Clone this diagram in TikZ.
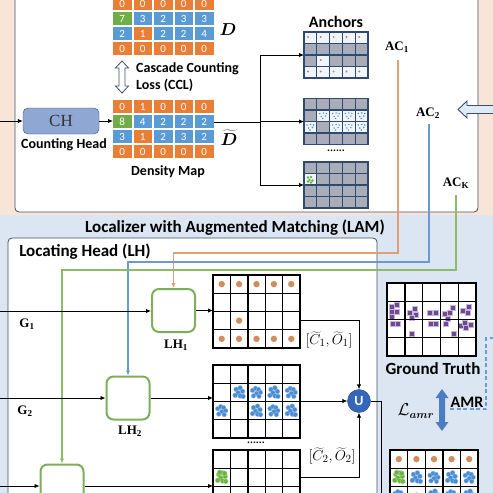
\documentclass[tikz,border=0pt]{standalone}
\usepackage{fontspec}
\setmainfont{Liberation Serif}
\newfontfamily\carl{Carlito}
\usepackage{bm}
\usetikzlibrary{arrows.meta,calc}
\definecolor{peach}{HTML}{F9E5D7}
\definecolor{lblue}{HTML}{DCE6F2}
\definecolor{edge}{HTML}{3E5068}
\definecolor{co}{HTML}{E97F37}
\definecolor{cb}{HTML}{5B9BD5}
\definecolor{cg}{HTML}{70AD47}
\definecolor{orl}{HTML}{DDA077}
\definecolor{bll}{HTML}{6B9AD0}
\definecolor{grl}{HTML}{8DBB6B}
\definecolor{lhg}{HTML}{7FAE5B}
\definecolor{odot}{HTML}{D38D5C}
\definecolor{blob}{HTML}{4A8CD4}
\definecolor{gblob}{HTML}{6DB33F}
\definecolor{purp}{HTML}{6E4895}
\definecolor{agray}{HTML}{A9ACB9}
\definecolor{aline}{HTML}{2F4A6C}
\definecolor{chfill}{HTML}{8FA7D3}
\definecolor{ublue}{HTML}{3467B8}
\definecolor{amrb}{HTML}{4B7DC2}
\newcommand\cellrow[4]{% y, list, prefix, x0
  \foreach \kk/\vv [count=\cc from 0] in {#2} {
    \node[dcell, fill=\kk] (#3\cc) at ({#4+\cc*20.5+9.25},#1) {\vv};
  }}
\newcommand\gridlines[4]{%
  \foreach \ii in {0,...,5} \draw[#4] ($(#1.north west)+({\ii*#2/5},0)$) -- ++(0,#3);
  \foreach \jj in {0,...,4} \draw[#4] ($(#1.north west)+(0,{\jj*#3/4})$) -- ++(#2,0);}
\tikzset{
  panel/.style={draw=edge, line width=0.8pt, rounded corners=4pt, fill=white},
  dcell/.style={minimum width=18.5pt, minimum height=13pt, inner sep=0pt, text=white, font=\carl\fontsize{11}{11}\selectfont},
  inv/.style={inner sep=0pt, outer sep=0pt},
  conn/.style={line width=0.9pt, -{Latex[length=5pt,width=4.5pt]}},
  sbold/.style={font=\carl\bfseries\fontsize{#1}{#1}\selectfont, inner sep=0pt},
  sbold/.default=14,
  serb/.style={font=\bfseries\fontsize{#1}{#1}\selectfont, inner sep=0pt},
  serb/.default=12,
  agrid/.style={inv, minimum width=64pt, minimum height=46pt, fill=agray},
  awhite/.style={fill=white!90!cb},
  aln/.style={aline, line width=1.1pt, line cap=rect},
  lgrid/.style={inv, minimum width=87pt, minimum height=73pt, fill=white},
  lln/.style={black, line width=1.4pt, line cap=rect},
  lhbox/.style={draw=lhg, line width=2pt, rounded corners=7pt, minimum size=43pt, fill=white, inner sep=0pt},
  acline/.style={line width=1.4pt, -{Latex[length=5pt,width=4.5pt]}},
  bblob/.pic={\foreach \dx/\dy in {-3/-3,1/-4.5,3.5/-1,-1/0.5,-4/3,1/3.5,4/4}
      \fill[blob, draw=blob!60!white, line width=0.3pt] (\dx,\dy) circle[radius=2.4pt];},
  bblobb/.pic={\foreach \dx/\dy in {-4/-2,-1/-4,2/-3,4/0,0/1,-3/3.5,2.5/4}
      \fill[blob, draw=blob!60!white, line width=0.3pt] (\dx,\dy) circle[radius=2.3pt];},
  gblobp/.pic={\foreach \dx/\dy in {-3/-3,1/-4.5,3.5/-1,-1/0.5,-4/3,1/3.5,4/4,-2/-5,3/-4}
      \fill[gblob, draw=gblob!50!white, line width=0.3pt] (\dx,\dy) circle[radius=2.5pt];},
  psq/.style={fill=purp, draw=purp!40!white, line width=0.4pt}
}
\begin{document}
\begin{tikzpicture}[x=1pt,y=-1pt]
\useasboundingbox (0,0) rectangle (493,493);
\clip (0,0) rectangle (493,493);
% backgrounds
\fill[peach] (0,0) rectangle (493,215);
\fill[lblue] (0,215) rectangle (493,493);
\draw[panel] (15,-20) rectangle (478,212);
\draw[panel] (8,238) rectangle (377,520);
% big hollow arrow from right
\draw[edge, fill=white!80!cb, line width=0.9pt] (458,109.5) -- (467,101) -- (467,105.5) -- (500,105.5) -- (500,113.5) -- (467,113.5) -- (467,118) -- cycle;
% ---------- counting part
\node[draw=edge, fill=chfill, rounded corners=5pt, minimum width=76pt, minimum height=26pt, inner sep=0pt, font=\fontsize{17}{17}\selectfont, text=black!80] (ch) at (61,121) {CH};
\node[sbold=14] (chl) at (64,145) {Counting Head};
\coordinate (in0) at (0,121);
\draw[conn] (in0) -- (in0 -| ch.west);
% density map
\node[inv, minimum width=100.5pt, minimum height=58pt] (dm) at (163.25,129) {};
\cellrow{106.5}{co/0,co/1,co/0,co/0,co/0}{dmA}{113}
\cellrow{121.5}{cg/8,cb/4,cb/2,cb/2,cb/2}{dmB}{113}
\cellrow{136.5}{cb/3,co/1,cb/2,cb/3,cb/2}{dmC}{113}
\cellrow{151.5}{co/0,co/0,co/0,co/0,co/0}{dmD}{113}
% D grid
\node[inv, minimum width=100.5pt, minimum height=58pt] (dg) at (163.25,26) {};
\cellrow{3.5}{co/0,co/0,co/0,co/0,co/0}{dA}{113}
\cellrow{18.5}{cg/7,cb/3,cb/2,cb/3,cb/3}{dB}{113}
\cellrow{33.5}{cb/2,co/1,cb/2,cb/2,cb/4}{dC}{113}
\cellrow{48.5}{co/0,co/0,co/0,co/0,co/0}{dD}{113}
\node[inv, font=\fontsize{16}{16}\selectfont] (dlab) at (228,30) {$\bm{D}$};
\node[inv, font=\fontsize{16}{16}\selectfont] (dtl) at (229,138) {$\widetilde{\bm{D}}$};
\node[sbold=14] (dml) at (168,172) {Density Map};
\draw[conn] (ch.east) -- (ch.east -| dm.west);
% CCL double arrow
\draw[edge, fill=white, line width=0.8pt] (122,61) -- (128.5,68) -- (125,68) -- (125,86) -- (128.5,86) -- (122,93) -- (115.5,86) -- (119,86) -- (119,68) -- (115.5,68) -- cycle;
\node[sbold=14, align=left, anchor=west, font=\carl\bfseries\fontsize{14}{17}\selectfont] (ccl) at (136,77.5) {Cascade Counting\\Loss (CCL)};
% anchors
\node[sbold=16] (anct) at (336,22) {Anchors};
\node[agrid] (a1) at (336,55) {};
\node[agrid] (a2) at (336,121.5) {};
\node[agrid] (a3) at (336,185) {};
\foreach \c/\r in {0/0,1/0,2/0,3/0,4/0,1/2,0/3,1/3,2/3,3/3,4/3}{
  \fill[awhite] ($(a1.north west)+(\c*12.8,\r*11.5)$) rectangle ++(12.8,11.5);
  \fill[odot!70!gray] ($(a1.north west)+(\c*12.8+4,\r*11.5+5)$) circle[radius=1.1pt];}
\foreach \c/\r in {1/1,2/1,3/1,4/1,0/2,2/2,3/2,4/2}{
  \fill[awhite] ($(a2.north west)+(\c*12.8,\r*11.5)$) rectangle ++(12.8,11.5);
  \foreach \px/\py in {3/3.5,6.5/3,4.5/6.5,8.5/6,9.5/3.5,6/8.5}
    \fill[blob] ($(a2.north west)+(\c*12.8+\px,\r*11.5+\py)$) circle[radius=0.8pt];}
\fill[awhite] ($(a3.north west)+(0,11.5)$) rectangle ++(12.8,11.5);
\foreach \px/\py in {4/4,7/3.5,5.5/6.5,8.5/7,4/8,7/9}
  \fill[gblob] ($(a3.north west)+(\px,11.5+\py)$) circle[radius=1.3pt];
\gridlines{a1}{64}{46}{aln}
\gridlines{a2}{64}{46}{aln}
\gridlines{a3}{64}{46}{aln}
\node[sbold=11] (adots) at (336,151) {......};
\coordinate (br) at (260,122);
\draw[line width=0.9pt] (dm.east |- br) -- (br);
\draw[line width=0.9pt] (br |- a1.west) -- (br |- a3.west);
\foreach \a in {a1,a2,a3} \draw[conn] (br |- \a.west) -- (\a.west);
% AC labels
\node[serb=13] (ac1) at (397,47) {AC\textsubscript{1}};
\node[serb=13] (ac2) at (428,113) {AC\textsubscript{2}};
\node[serb=13] (ack) at (456,183) {AC\textsubscript{K}};
% ---------- LAM part
\node[sbold=17] (lamt) at (235,228) {Localizer with Augmented Matching (LAM)};
\node[sbold=17] (lht) at (85,252) {Locating Head (LH)};
\node[lhbox] (lh1) at (173.5,310.5) {};
\node[lhbox] (lh2) at (128,398) {};
\node[lhbox] (lhk) at (62,486) {};
\node[serb=13] (lh1l) at (176,345) {LH\textsubscript{1}};
\node[serb=13] (lh2l) at (130,431) {LH\textsubscript{2}};
\coordinate (ac1s) at (398,60);  \coordinate (o1) at (398,253);
\coordinate (ac2s) at (429,124); \coordinate (o2) at (429,262);
\coordinate (acks) at (456,195); \coordinate (o3) at (456,270);
\draw[acline, orl] (ac1s) -- (o1) -| (lh1.north);
\draw[acline, bll] (ac2s) -- (o2) -| (lh2.north);
\draw[acline, grl] (acks) -- (o3) -| (lhk.north);
% G inputs
\coordinate (gin1) at (0,311);
\coordinate (gin2) at (0,398);
\coordinate (gink) at (0,486);
\draw[conn] (gin1) -- (gin1 -| lh1.west);
\draw[conn] (gin2) -- (gin2 -| lh2.west);
\draw[conn] (gink) -- (gink -| lhk.west);
\node[serb=13] (g1l) at (27,324) {G\textsubscript{1}};
\node[serb=13] (g2l) at (25,411) {G\textsubscript{2}};
% LH grids
\node[lgrid] (g1) at (256.5,311.5) {};
\node[lgrid] (g2) at (256.5,401.5) {};
\node[lgrid] (gk) at (256.5,486.5) {};
\foreach \c/\r in {0/0,1/0,2/0,3/0,4/0,1/2,0/3,1/3,2/3,3/3,4/3}
  \fill[odot] ($(g1.north west)+({(\c+0.5)*17.4},{(\r+0.5)*18.25})$) circle[radius=3.2pt];
\foreach \c/\r/\pp in {1/1/bblob,2/1/bblobb,3/1/bblob,4/1/bblobb,0/2/bblobb,2/2/bblob,3/2/bblobb,4/2/bblob}
  \pic at ($(g2.north west)+({(\c+0.5)*17.4},{(\r+0.5)*18.25})$) {\pp};
\pic at ($(gk.north west)+({0.5*17.4},{1.5*18.25})$) {gblobp};
\gridlines{g1}{87}{73}{lln}
\gridlines{g2}{87}{73}{lln}
\gridlines{gk}{87}{73}{lln}
\draw[conn] (lh1.east) -- (lh1.east -| g1.west);
\draw[conn] (lh2.east) -- (lh2.east -| g2.west);
\draw[conn] (lhk.east) -- (lhk.east -| gk.west);
\node[sbold=11] (gdots) at (256,443) {......};
\node[inv, font=\fontsize{15}{15}\selectfont] (c1l) at (329,340) {$[\widetilde{C}_1,\widetilde{O}_1]$};
\node[inv, font=\fontsize{15}{15}\selectfont] (c2l) at (332,456) {$[\widetilde{C}_2,\widetilde{O}_2]$};
% union
\node[circle, fill=ublue, draw=ublue!70!black, minimum size=23pt, inner sep=0pt, text=white, font=\carl\bfseries\fontsize{14}{14}\selectfont] (u) at (359,401) {U};
\draw[conn] ([yshift=-8.5pt]g1.east) -| (u.north);
\draw[conn] (u.west -| g2.east) -- (u.west);
\draw[conn] ([yshift=9.5pt]gk.east) -| (u.south);
\coordinate (uc) at (381,401);
\coordinate (ue) at (381,500);
\draw[line width=0.9pt] (u.east) -- (uc) -- (ue);
% ground truth
\node[inv, minimum width=89pt, minimum height=73pt, fill=white] (gt) at (431.5,319.5) {};
\foreach \px/\py in {2/21,7/19,2/26,7/26,2/31,
  20/27,25/23,26/29,22/32,
  40/27,46/27,
  55/28,60/27,63/22,58/33,
  73/25,78/27,79/21,
  3/38,8/38, 22/48, 41/38,46/38, 56/38,64/48, 71/40,76/42,81/39,75/37}
  \filldraw[psq] ($(gt.north west)+(\px,\py)$) rectangle ++(5.2,5.2);
\gridlines{gt}{89}{73}{lln}
\node[sbold=17] (gtl) at (433,369) {Ground Truth};
% AMR
\fill[amrb] (442,389) -- (448.5,398) -- (445,398) -- (445,422) -- (448.5,422) -- (442,431) -- (435.5,422) -- (439,422) -- (439,398) -- (435.5,398) -- cycle;
\node[inv, font=\fontsize{16}{16}\selectfont] (lamr) at (416,411) {$\mathcal{L}_{\bm{amr}}$};
\node[sbold=16] (amr) at (467,402) {AMR};
\coordinate (da) at (450,409);
\coordinate (db) at (486,409);
\coordinate (dc) at (486,338);
\coordinate (dd) at (500,338);
\draw[bll, line width=1.3pt, dash pattern=on 4pt off 2.5pt] (da) -- (db) -- (dc) -- (dd);
% final grid
\node[inv, minimum width=88pt, minimum height=73pt, fill=white] (fg) at (434,486.5) {};
\foreach \c/\r in {0/0,1/0,2/0,3/0,4/0,1/2,0/3,1/3,2/3,3/3,4/3}
  \fill[odot] ($(fg.north west)+({(\c+0.5)*17.6},{(\r+0.5)*18.25})$) circle[radius=3.2pt];
\foreach \c/\r/\pp in {1/1/bblob,2/1/bblobb,3/1/bblob,4/1/bblobb,0/2/bblobb,2/2/bblob,3/2/bblobb,4/2/bblob}
  \pic at ($(fg.north west)+({(\c+0.5)*17.6},{(\r+0.5)*18.25})$) {\pp};
\pic at ($(fg.north west)+({0.5*17.6},{1.5*18.25})$) {gblobp};
\gridlines{fg}{88}{73}{lln}
\end{tikzpicture}
\end{document}
